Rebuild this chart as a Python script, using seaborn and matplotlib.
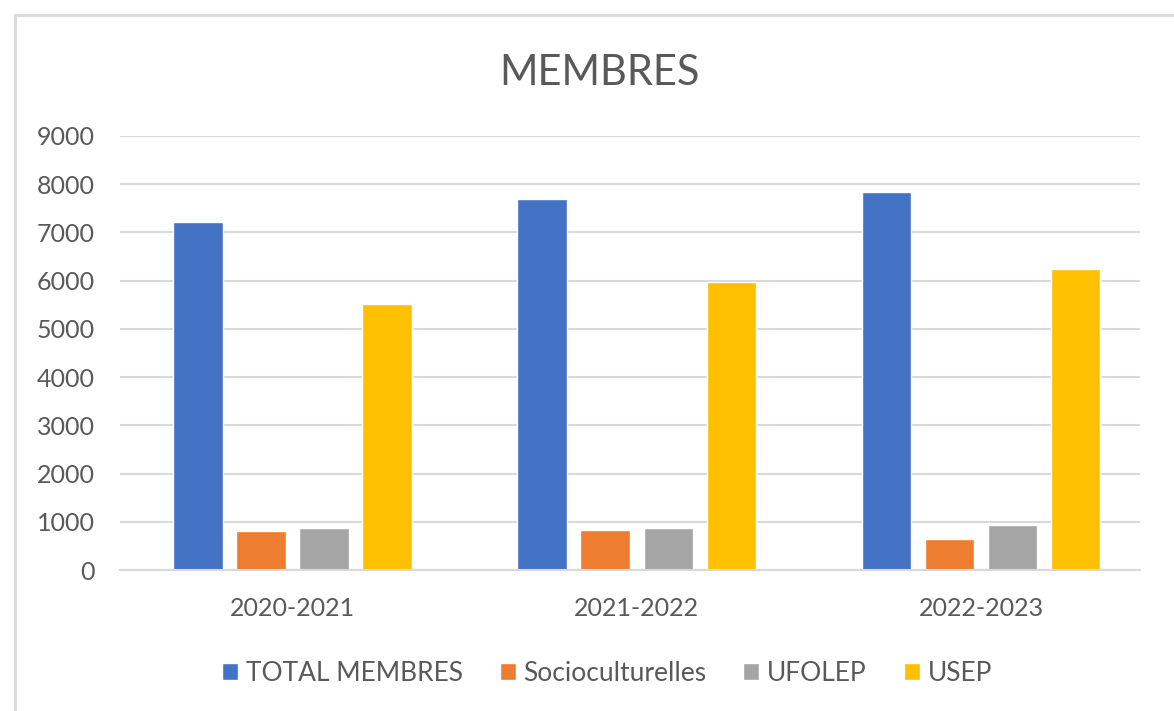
import pandas as pd
import matplotlib.pyplot as plt
import matplotlib.patches as mpatches
import seaborn as sns

# Data
saisons = ['2020-2021', '2021-2022', '2022-2023']
series = ['TOTAL MEMBRES', 'Socioculturelles', 'UFOLEP', 'USEP']
total_membres = [7205, 7697, 7828]
socioculturelles = [809, 836, 637]
ufolep = [865, 865, 934]
usep = [5512, 5975, 6238]
couleurs = ['#4472C4', '#ED7D31', '#A5A5A5', '#FFC000']

# Long format for seaborn
rows = []
for nom, valeurs in zip(series, [total_membres, socioculturelles, ufolep, usep]):
    for s, v in zip(saisons, valeurs):
        rows.append({'saison': s, 'serie': nom, 'membres': v})
df = pd.DataFrame(rows)

sns.set_style('white')
plt.rcParams['font.family'] = ['Lato', 'DejaVu Sans']
texte = '#595959'

fig = plt.figure(figsize=(11.74, 7.11), dpi=100)
ax = fig.add_axes([0.102, 0.198, 0.869, 0.611])

sns.barplot(data=df, x='saison', y='membres', hue='serie', order=saisons,
            hue_order=series, palette=couleurs, width=0.733, gap=0.21,
            saturation=1, ax=ax, legend=True)

ax.set_xlim(-0.503, 2.462)
ax.set_ylim(0, 9000)
ax.set_yticks(range(0, 9001, 1000))
ax.yaxis.grid(True, color='#D9D9D9', linewidth=1.5)
ax.set_axisbelow(True)
for sp in ['top', 'right', 'left']:
    ax.spines[sp].set_visible(False)
ax.spines['bottom'].set_color('#D9D9D9')
ax.spines['bottom'].set_linewidth(1.5)
ax.tick_params(axis='both', length=0, labelsize=18, labelcolor=texte)
ax.tick_params(axis='x', pad=19)
ax.tick_params(axis='y', pad=18)
ax.set_xlabel('')
ax.set_ylabel('')

fig.text(0.511, 0.898, 'MEMBRES', ha='center', va='center', fontsize=30, color=texte)

handles, labels = ax.get_legend_handles_labels()
ax.legend_.remove()
fig.legend(handles, labels, loc='center', bbox_to_anchor=(0.517, 0.053), ncol=4,
           frameon=False, fontsize=19, labelcolor=texte, handlelength=0.6,
           handleheight=0.6, handletextpad=0.3, columnspacing=1.4)

# Chart area border
fig.patches.append(mpatches.Rectangle((15 / 1174, -0.01), 1.2, 1 - 15 / 711 + 0.01,
                                      transform=fig.transFigure, fill=False,
                                      edgecolor='#D9D9D9', linewidth=2))

fig.savefig('out.png', dpi=100)
